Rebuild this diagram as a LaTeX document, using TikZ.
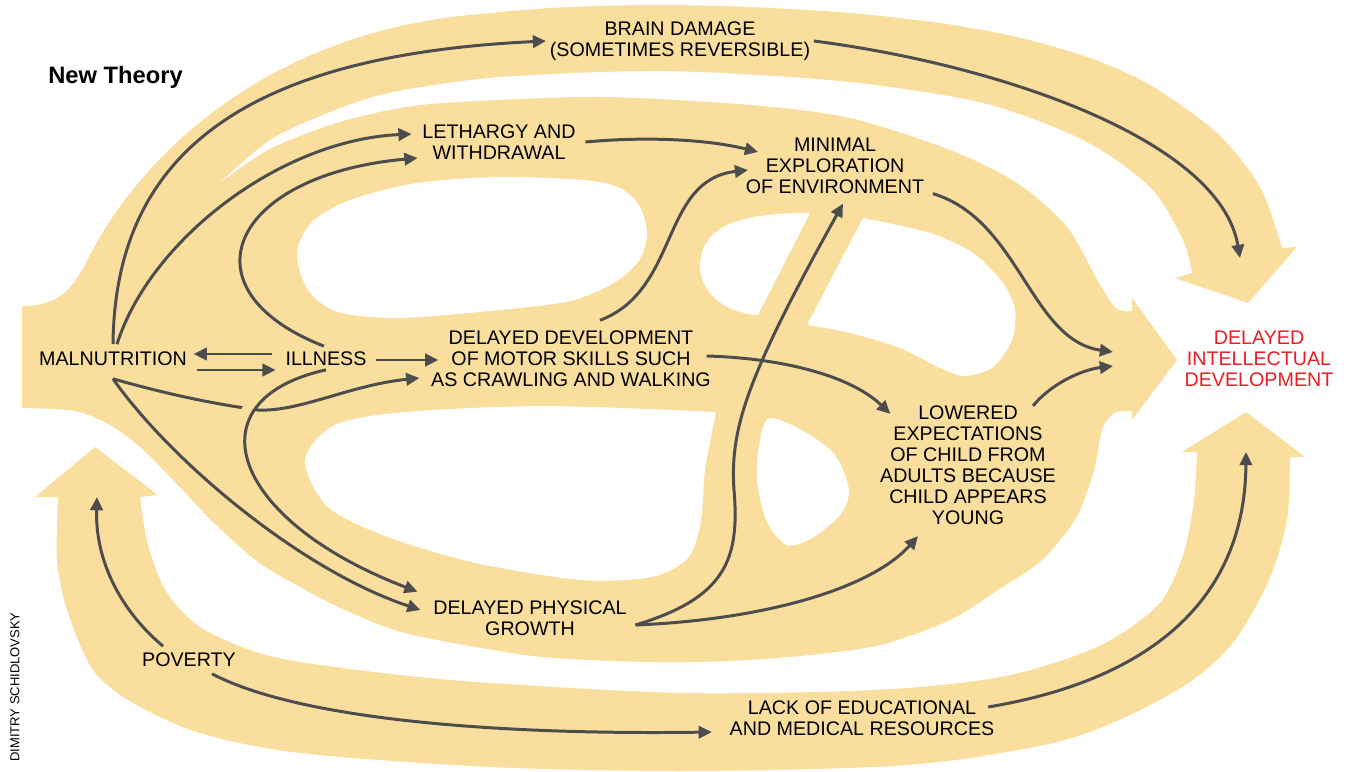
\documentclass[tikz,border=0pt]{standalone}
\usepackage{fontspec}
\setmainfont{Liberation Sans}
\usetikzlibrary{arrows.meta}
\definecolor{sand}{RGB}{249,222,158}
\definecolor{lineg}{RGB}{77,77,77}
\definecolor{redtext}{RGB}{237,28,36}

\begin{document}
\begin{tikzpicture}[x=0.02cm,y=-0.02cm,
  lbl/.style={align=center,inner sep=2pt,font=\fontsize{11.2}{11.9}\selectfont},
  conn/.style={lineg,line width=1.7pt,-{Triangle[length=7.5pt,width=7pt]}}]
\useasboundingbox (0,0) rectangle (1349,771);

\fill[sand] (22,306) .. controls (60,306) and (72,288) .. (85,265) .. controls (130,170) and (250,40) .. (460,16)
  -- plot[smooth] coordinates {(460,16) (550,8) (650,5) (750,7) (850,13) (940,23) (1017,37) (1090,58) (1150,85) (1217,133) (1260,187) (1282,248)}
  -- (1297,247) -- (1248,303) -- (1175,278) -- (1192,273)
  -- plot[smooth] coordinates {(1192,273) (1183,240) (1150,187) (1083,140) (983,103) (850,82) (700,72) (600,72) (500,77) (440,84) (380,95) (330,112) (270,140) (217,185)}
  -- plot[smooth] coordinates {(217,185) (268,150) (333,124) (400,108) (460,102) (600,97) (750,105) (850,118) (950,150) (1017,183) (1067,227) (1100,285) (1117,309) (1132,311)}
  -- (1132,298) -- (1177,360) -- (1132,420) -- (1132,411)
  -- plot[smooth] coordinates {(1132,411) (1114,413) (1102,430) (1094,470) (1076,518) (1042,560) (1001,588) (950,620) (880,645) (810,655) (730,661) (651,662) (570,659) (511,653) (405,633) (345,610) (300,587) (258,562) (215,524) (175,482) (140,447) (110,425) (75,411) (22,408)}
  -- cycle;
\fill[sand] (95,447) -- (158,495) -- (140,497)
  -- plot[smooth] coordinates {(140,497) (148,545) (167,593) (200,627) (250,650) (300,662) (400,675) (491,683) (683,693) (874,690) (1001,677) (1097,647) (1158,605) (1183,555) (1194,500) (1197,452)}
  -- (1182,452) -- (1246,412) -- (1305,457) -- (1290,457)
  -- plot[smooth] coordinates {(1290,457) (1287,520) (1269,580) (1235,640) (1193,680) (1130,715) (1065,740) (970,758) (874,767) (683,771) (491,767) (300,753) (200,733) (133,703) (93,670) (67,610) (57,560) (58,497)}
  -- (35,497) -- cycle;

\fill[white] plot[smooth cycle] coordinates {(297,253) (312,222) (350,200) (417,183) (500,177) (583,180) (620,188) (640,207) (647,235) (638,262) (612,284) (570,301) (500,310) (400,318) (338,312) (308,290)};
\fill[white] (810,213) -- (758,315) .. controls (720,312) and (700,290) .. (700,265) .. controls (702,225) and (740,213) .. (810,213) -- cycle;
\fill[white] (863,218) -- (807,325) -- plot[smooth] coordinates {(807,325) (850,333) (900,348) (940,368) (965,376) (993,367) (1012,340) (1015,310) (1003,283) (973,253) (930,233) (863,218)} -- cycle;
\fill[white] (716,412) -- plot[smooth] coordinates {(716,412) (546,406) (405,412) (335,425) (305,460) (328,507) (388,537) (476,563) (581,580) (651,577) (688,558) (701,520) (705,470) (716,412)} -- cycle;
\fill[white] plot[smooth cycle] coordinates {(770,418) (805,432) (835,455) (849,490) (840,515) (812,538) (787,545) (767,522) (757,480) (760,440)};

\node[font=\bfseries\fontsize{13.5}{15}\selectfont,inner sep=0pt] (title) at (115.5,77) {New Theory};
\node[rotate=90,font=\fontsize{7.4}{8}\selectfont,inner sep=0pt] (credit) at (15,687) {DIMITRY SCHIDLOVSKY};

\node[lbl] (brain) at (680,41) {BRAIN DAMAGE\\(SOMETIMES REVERSIBLE)};
\node[lbl] (leth) at (499,142) {LETHARGY AND\\WITHDRAWAL};
\node[lbl] (mini) at (835,166) {MINIMAL\\EXPLORATION\\OF ENVIRONMENT};
\node[lbl] (mal) at (113,359) {MALNUTRITION};
\node[lbl] (ill) at (326,359) {ILLNESS};
\node[lbl] (dev) at (571,359) {DELAYED DEVELOPMENT\\OF MOTOR SKILLS SUCH\\AS CRAWLING AND WALKING};
\node[lbl] (low) at (968,465) {LOWERED\\EXPECTATIONS\\OF CHILD FROM\\ADULTS BECAUSE\\CHILD APPEARS\\YOUNG};
\node[lbl] (phys) at (530,618) {DELAYED PHYSICAL\\GROWTH};
\node[lbl] (pov) at (189,660) {POVERTY};
\node[lbl] (lack) at (862,718) {LACK OF EDUCATIONAL\\AND MEDICAL RESOURCES};
\node[lbl,text=redtext] (dit) at (1259,359) {DELAYED\\INTELLECTUAL\\DEVELOPMENT};

\coordinate (tipTop) at (1240,258);
\coordinate (tipA) at (1113,352);
\coordinate (tipB) at (1113,366);
\coordinate (tipPov) at (97,497);
\coordinate (tipLack) at (1246,452);

\draw[conn] ([shift={(0,-4)}]mal.north) .. controls (115,150) and (250,55) .. (brain.west);
\draw[conn] ([shift={(4,-4)}]mal.north) .. controls (150,240) and (280,140) .. ([shift={(-7,-8)}]leth.west);
\draw[conn] ([shift={(-2,-2)}]ill.north) .. controls (180,290) and (230,175) .. ([shift={(-1,16)}]leth.west);
\draw[conn] ([shift={(6,0)}]leth.east) .. controls (650,136) and (710,140) .. ([shift={(16,-14)}]mini.west);
\draw[conn] ([shift={(5,-4)}]mini.south east) .. controls (1020,220) and (1030,340) .. (tipA);
\draw[conn] ([shift={(65,4)}]low.north) .. controls (1050,385) and (1080,370) .. (tipB);
\draw[conn] (brain.east) .. controls (1000,65) and (1220,140) .. (tipTop);
\draw[conn] ([shift={(-10,-5)}]ill.west) -- ([shift={(3,-5)}]mal.east);
\draw[conn] ([shift={(6,11)}]mal.east) -- ([shift={(-6,11)}]ill.west);
\draw[conn] ([shift={(6,1)}]ill.east) -- ([shift={(11,1)}]dev.west);
\draw[conn] ([shift={(0,9)}]mal.south) .. controls (170,395) and (215,404) .. (258,410) .. controls (300,412) and (350,385) .. ([shift={(-8,19)}]dev.west);
\draw[conn] ([shift={(0,9)}]mal.south) .. controls (170,460) and (300,570) .. ([shift={(-9,-8)}]phys.west);
\draw[conn,preaction={draw=sand,line width=7pt,-,shorten <=10pt,shorten >=20pt}] (ill.south) .. controls (190,400) and (230,520) .. ([shift={(-12,-5)}]phys.north west);
\draw[conn] ([shift={(29,-7)}]dev.north) .. controls (680,290) and (660,180) .. ([shift={(6,4)}]mini.west);
\draw[conn] ([shift={(-8,-3)}]dev.east) .. controls (780,358) and (850,375) .. ([shift={(14,12)}]low.north west);
\draw[conn] ([shift={(5,7)}]phys.east) .. controls (725,598) and (740,560) .. (734,490) .. controls (730,430) and (745,380) .. ([shift={(8,6)}]mini.south);
\draw[conn] ([shift={(5,7)}]phys.east) .. controls (760,620) and (870,590) .. ([shift={(-50,8)}]low.south);
\draw[conn] ([shift={(-26,-3)}]pov.north) .. controls (120,610) and (95,560) .. (tipPov);
\draw[conn] ([shift={(23,3)}]pov.south) .. controls (300,720) and (500,735) .. ([shift={(-14,14)}]lack.west);
\draw[conn] ([shift={(-10,-11)}]lack.east) .. controls (1150,680) and (1245,600) .. (tipLack);
\end{tikzpicture}
\end{document}
